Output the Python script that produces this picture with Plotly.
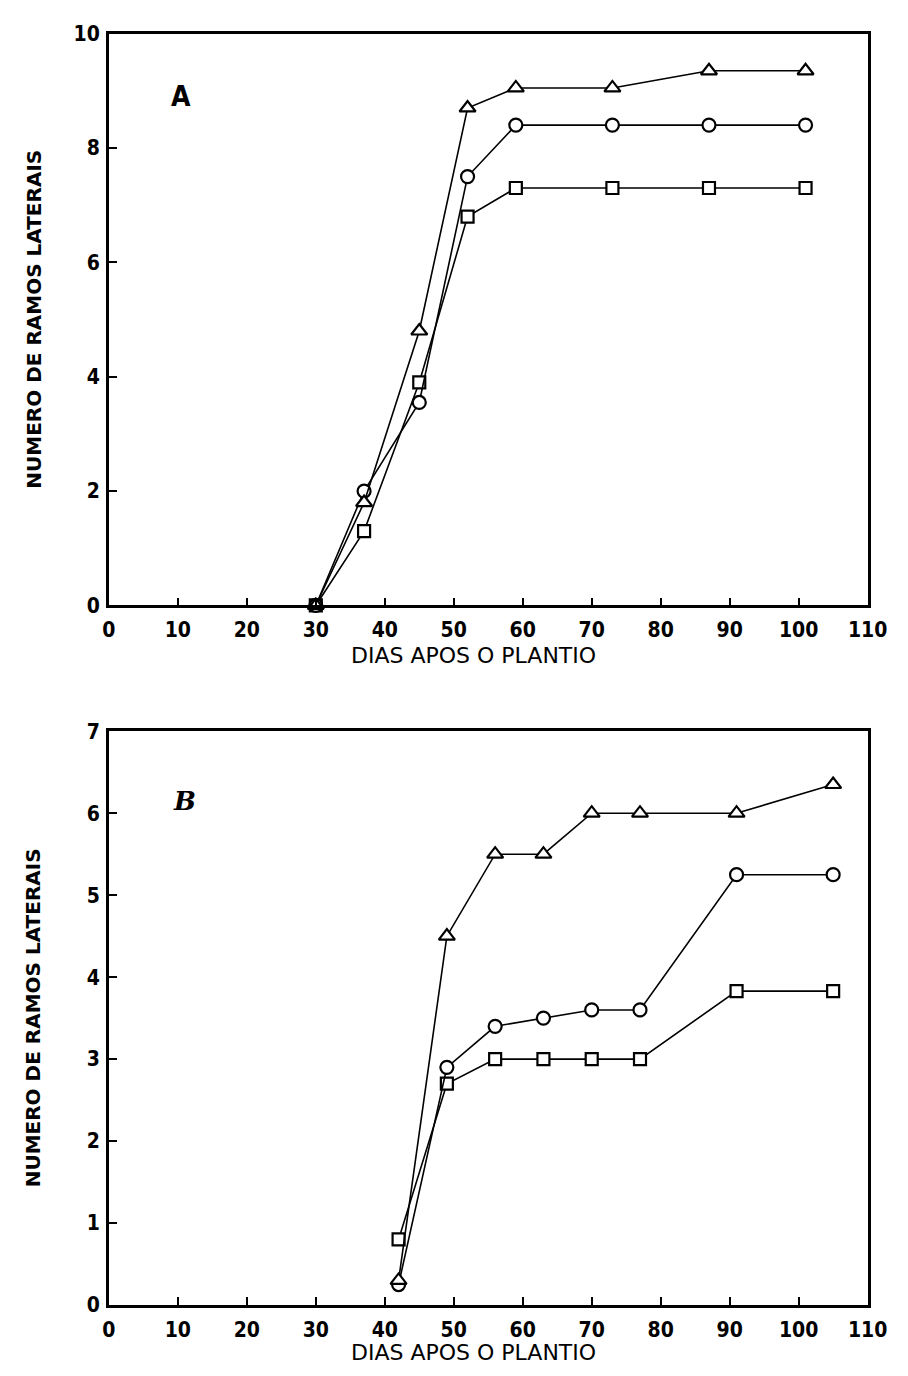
import plotly.graph_objects as go

# Panel A: lateral branches by days after planting
dias_a = [30, 37, 45, 52, 59, 73, 87, 101]
triang_a = [0, 1.8, 4.8, 8.7, 9.05, 9.05, 9.35, 9.35]
circ_a = [0, 2.0, 3.55, 7.5, 8.4, 8.4, 8.4, 8.4]
quad_a = [0, 1.3, 3.9, 6.8, 7.3, 7.3, 7.3, 7.3]

# Panel B
dias_b = [42, 49, 56, 63, 70, 77, 91, 105]
triang_b = [0.3, 4.5, 5.5, 5.5, 6.0, 6.0, 6.0, 6.35]
circ_b = [0.25, 2.9, 3.4, 3.5, 3.6, 3.6, 5.25, 5.25]
quad_b = [0.8, 2.7, 3.0, 3.0, 3.0, 3.0, 3.83, 3.83]

x_ticks = list(range(0, 111, 10))
y_ticks_a = list(range(0, 11, 2))
y_ticks_b = list(range(0, 8, 1))

W, H = 908, 1376
FONT = "DejaVu Sans Condensed, DejaVu Sans, sans-serif"

fig = go.Figure()


def add_series(x, y, symbol, size, xa, ya):
    fig.add_trace(go.Scatter(
        x=x, y=y, mode="lines+markers", xaxis=xa, yaxis=ya,
        line=dict(color="black", width=1.6),
        marker=dict(symbol=symbol, size=size, color="white",
                    line=dict(color="black", width=2.2)),
        cliponaxis=False, showlegend=False,
    ))


for xa, ya, xs, series in [
    ("x", "y", dias_a, (triang_a, circ_a, quad_a)),
    ("x2", "y2", dias_b, (triang_b, circ_b, quad_b)),
]:
    add_series(xs, series[2], "square", 12, xa, ya)
    add_series(xs, series[1], "circle", 13, xa, ya)
    add_series(xs, series[0], "triangle-up", 14, xa, ya)

x_left, x_right = 105 / W, 887 / W
dom_a = [1 - 604 / H, 1 - 22 / H]
dom_b = [1 - 1316 / H, 1 - 732 / H]

axis_common = dict(
    showline=True, linecolor="black", linewidth=2.6, mirror=True,
    ticks="inside", ticklen=8, tickwidth=2, tickcolor="black",
    showgrid=False, zeroline=False,
    tickfont=dict(family=FONT, size=21, color="black", weight="bold"),
)

fig.update_layout(
    width=W, height=H,
    margin=dict(l=0, r=0, t=0, b=0),
    paper_bgcolor="white", plot_bgcolor="white",
    xaxis=dict(domain=[x_left, x_right], range=[0, 110], tickvals=x_ticks,
               anchor="y", ticklabelstandoff=4, **axis_common),
    yaxis=dict(domain=dom_a, range=[0, 10], tickvals=y_ticks_a,
               anchor="x", ticklabelstandoff=2, **axis_common),
    xaxis2=dict(domain=[x_left, x_right], range=[0, 110], tickvals=x_ticks,
                anchor="y2", ticklabelstandoff=4, **axis_common),
    yaxis2=dict(domain=dom_b, range=[0, 7], tickvals=y_ticks_b,
                anchor="x2", ticklabelstandoff=2, **axis_common),
)

title_font = dict(family="DejaVu Sans, sans-serif", size=20, color="black", weight="bold")
xt_font = dict(family="DejaVu Sans, sans-serif", size=22, color="black")

# axis titles
for ypix_title, yc in [(655, (22 + 604) / 2), (1364, (732 + 1316) / 2)]:
    fig.add_annotation(text="DIAS APOS O PLANTIO", xref="paper", yref="paper",
                       x=352 / W, y=1 - ypix_title / H,
                       showarrow=False, font=xt_font, xanchor="left", yanchor="middle")
    fig.add_annotation(text="NUMERO DE RAMOS LATERAIS", xref="paper", yref="paper",
                       x=27 / W, y=1 - yc / H, textangle=-90,
                       showarrow=False, font=title_font, xanchor="center", yanchor="middle")

# panel letters
fig.add_annotation(text="A", x=10.5, y=8.9, xref="x", yref="y", showarrow=False,
                   font=dict(family=FONT, size=28, color="black", weight="bold"))
fig.add_annotation(text="B", x=11, y=6.15, xref="x2", yref="y2", showarrow=False,
                   font=dict(family="DejaVu Serif, serif", size=26, color="black",
                             weight="bold", style="italic"))

fig.write_html("out.html")
